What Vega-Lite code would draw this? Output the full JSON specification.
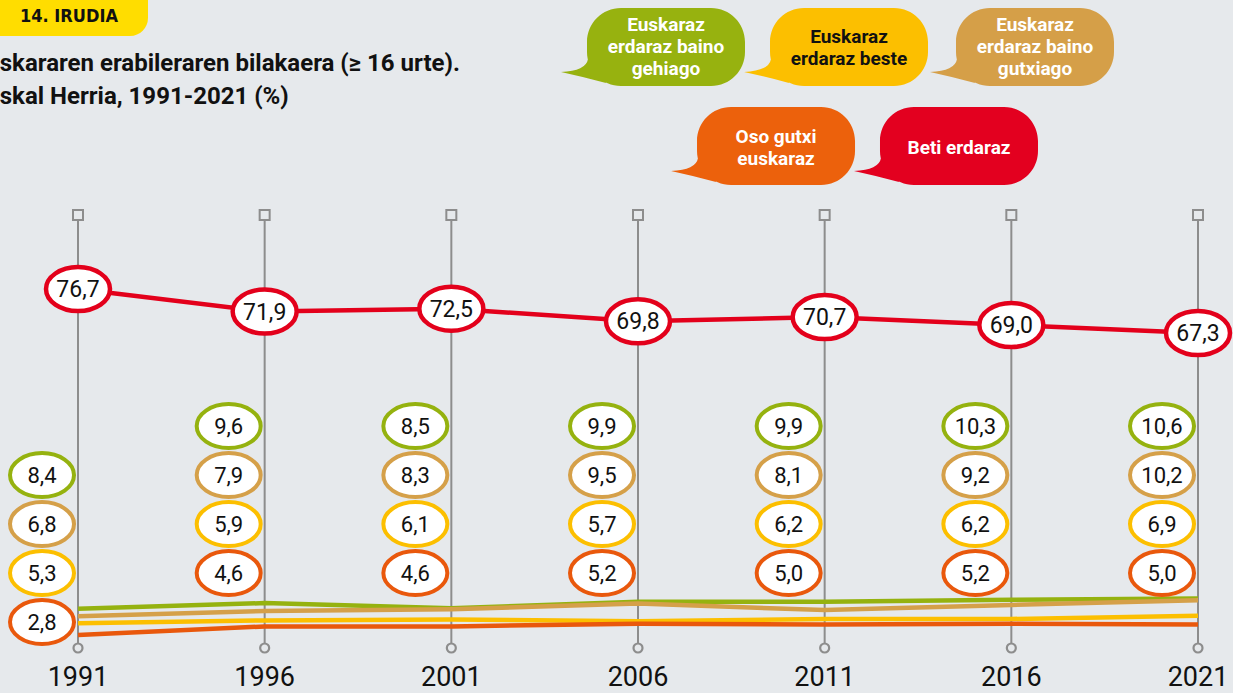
{
  "$schema": "https://vega.github.io/schema/vega-lite/v6.json",
  "width": 1233,
  "height": 693,
  "autosize": "none",
  "padding": 0,
  "background": "#e6e9ec",
  "config": {"view": {"stroke": null}, "text": {"font": "Roboto"}},
  "datasets": {
    "main": [
      {"year": 1991, "series": "Beti erdaraz", "value": 76.7},
      {"year": 1996, "series": "Beti erdaraz", "value": 71.9},
      {"year": 2001, "series": "Beti erdaraz", "value": 72.5},
      {"year": 2006, "series": "Beti erdaraz", "value": 69.8},
      {"year": 2011, "series": "Beti erdaraz", "value": 70.7},
      {"year": 2016, "series": "Beti erdaraz", "value": 69.0},
      {"year": 2021, "series": "Beti erdaraz", "value": 67.3},
      {"year": 1991, "series": "Euskaraz erdaraz baino gehiago", "value": 8.4},
      {"year": 1996, "series": "Euskaraz erdaraz baino gehiago", "value": 9.6},
      {"year": 2001, "series": "Euskaraz erdaraz baino gehiago", "value": 8.5},
      {"year": 2006, "series": "Euskaraz erdaraz baino gehiago", "value": 9.9},
      {"year": 2011, "series": "Euskaraz erdaraz baino gehiago", "value": 9.9},
      {"year": 2016, "series": "Euskaraz erdaraz baino gehiago", "value": 10.3},
      {"year": 2021, "series": "Euskaraz erdaraz baino gehiago", "value": 10.6},
      {"year": 1991, "series": "Euskaraz erdaraz baino gutxiago", "value": 6.8},
      {"year": 1996, "series": "Euskaraz erdaraz baino gutxiago", "value": 7.9},
      {"year": 2001, "series": "Euskaraz erdaraz baino gutxiago", "value": 8.3},
      {"year": 2006, "series": "Euskaraz erdaraz baino gutxiago", "value": 9.5},
      {"year": 2011, "series": "Euskaraz erdaraz baino gutxiago", "value": 8.1},
      {"year": 2016, "series": "Euskaraz erdaraz baino gutxiago", "value": 9.2},
      {"year": 2021, "series": "Euskaraz erdaraz baino gutxiago", "value": 10.2},
      {"year": 1991, "series": "Euskaraz erdaraz beste", "value": 5.3},
      {"year": 1996, "series": "Euskaraz erdaraz beste", "value": 5.9},
      {"year": 2001, "series": "Euskaraz erdaraz beste", "value": 6.1},
      {"year": 2006, "series": "Euskaraz erdaraz beste", "value": 5.7},
      {"year": 2011, "series": "Euskaraz erdaraz beste", "value": 6.2},
      {"year": 2016, "series": "Euskaraz erdaraz beste", "value": 6.2},
      {"year": 2021, "series": "Euskaraz erdaraz beste", "value": 6.9},
      {"year": 1991, "series": "Oso gutxi euskaraz", "value": 2.8},
      {"year": 1996, "series": "Oso gutxi euskaraz", "value": 4.6},
      {"year": 2001, "series": "Oso gutxi euskaraz", "value": 4.6},
      {"year": 2006, "series": "Oso gutxi euskaraz", "value": 5.2},
      {"year": 2011, "series": "Oso gutxi euskaraz", "value": 5.0},
      {"year": 2016, "series": "Oso gutxi euskaraz", "value": 5.2},
      {"year": 2021, "series": "Oso gutxi euskaraz", "value": 5.0}
    ],
    "legend": [
      {"order": 1, "series": "Euskaraz erdaraz baino gehiago", "txt": "Euskaraz\nerdaraz baino\ngehiago"},
      {"order": 2, "series": "Euskaraz erdaraz beste", "txt": "Euskaraz\nerdaraz beste"},
      {"order": 3, "series": "Euskaraz erdaraz baino gutxiago", "txt": "Euskaraz\nerdaraz baino\ngutxiago"},
      {"order": 4, "series": "Oso gutxi euskaraz", "txt": "Oso gutxi\neuskaraz"},
      {"order": 5, "series": "Beti erdaraz", "txt": "Beti erdaraz"}
    ]
  },
  "layer": [
    {
      "data": {"name": "main"},
      "transform": [{"filter": "datum.series === 'Beti erdaraz'"}],
      "mark": {"type": "rule", "color": "#8d8d8d", "strokeWidth": 2},
      "encoding": {
        "x": {"field": "year", "type": "quantitative", "scale": {"domain": [1988.9107, 2021.9375], "nice": false, "zero": false}, "axis": null},
        "y": {"datum": 92.0, "type": "quantitative", "scale": {"domain": [-9.615, 138.46], "nice": false, "zero": false}, "axis": null},
        "y2": {"datum": 1.0}
      }
    },
    {
      "data": {"name": "main"},
      "transform": [{"filter": "datum.series === 'Beti erdaraz'"}],
      "mark": {"type": "point", "shape": "square", "size": 100, "filled": true, "fill": "#e6e9ec", "stroke": "#8d8d8d", "strokeWidth": 2, "opacity": 1},
      "encoding": {
        "x": {"field": "year", "type": "quantitative", "scale": {"domain": [1988.9107, 2021.9375], "nice": false, "zero": false}, "axis": null},
        "y": {"datum": 92.52, "type": "quantitative", "scale": {"domain": [-9.615, 138.46], "nice": false, "zero": false}, "axis": null}
      }
    },
    {
      "data": {"name": "main"},
      "transform": [{"filter": "datum.series === 'Beti erdaraz'"}],
      "mark": {"type": "point", "shape": "circle", "size": 81, "filled": true, "fill": "#e6e9ec", "stroke": "#8d8d8d", "strokeWidth": 2.2, "opacity": 1},
      "encoding": {
        "x": {"field": "year", "type": "quantitative", "scale": {"domain": [1988.9107, 2021.9375], "nice": false, "zero": false}, "axis": null},
        "y": {"datum": 0, "type": "quantitative", "scale": {"domain": [-9.615, 138.46], "nice": false, "zero": false}, "axis": null}
      }
    },
    {
      "data": {"name": "main"},
      "mark": {"type": "line", "strokeWidth": 4.5},
      "encoding": {
        "x": {"field": "year", "type": "quantitative", "scale": {"domain": [1988.9107, 2021.9375], "nice": false, "zero": false}, "axis": null},
        "y": {"field": "value", "type": "quantitative", "scale": {"domain": [-9.615, 138.46], "nice": false, "zero": false}, "axis": null},
        "color": {"field": "series", "type": "nominal", "legend": null, "scale": {"domain": ["Euskaraz erdaraz baino gehiago", "Euskaraz erdaraz baino gutxiago", "Euskaraz erdaraz beste", "Oso gutxi euskaraz", "Beti erdaraz"], "range": ["#95b20f", "#d5a049", "#fcbf00", "#e9580c", "#e3001b"]}}
      }
    },
    {
      "data": {"name": "main"},
      "transform": [{"filter": "datum.series === 'Beti erdaraz'"}],
      "mark": {"type": "point", "shape": "M -32,0 A 32,22 0 1 0 32,0 A 32,22 0 1 0 -32,0 Z", "size": 4, "filled": true, "fill": "white", "stroke": "#e3001b", "strokeWidth": 4.5, "opacity": 1},
      "encoding": {
        "x": {"field": "year", "type": "quantitative", "scale": {"domain": [1988.9107, 2021.9375], "nice": false, "zero": false}, "axis": null},
        "y": {"field": "value", "type": "quantitative", "scale": {"domain": [-9.615, 138.46], "nice": false, "zero": false}, "axis": null}
      }
    },
    {
      "data": {"name": "main"},
      "transform": [
        {"filter": "datum.series === 'Beti erdaraz'"},
        {"calculate": "replace(format(datum.value, '.1f'), '.', ',')", "as": "label"}
      ],
      "mark": {"type": "text", "fontSize": 23, "color": "#111111", "align": "center", "baseline": "middle", "dy": 1},
      "encoding": {
        "x": {"field": "year", "type": "quantitative", "scale": {"domain": [1988.9107, 2021.9375], "nice": false, "zero": false}, "axis": null},
        "y": {"field": "value", "type": "quantitative", "scale": {"domain": [-9.615, 138.46], "nice": false, "zero": false}, "axis": null},
        "text": {"field": "label"}
      }
    },
    {
      "data": {"name": "main"},
      "transform": [
        {"filter": "datum.series !== 'Beti erdaraz'"},
        {"window": [{"op": "row_number", "as": "rk"}], "sort": [{"field": "value", "order": "ascending"}], "groupby": ["year"]},
        {"calculate": "16.0 + (datum.rk - 1) * 10.47 - (datum.year === 1991 ? 10.47 : 0)", "as": "ly"},
        {"calculate": "datum.year - 0.964", "as": "lx"}
      ],
      "mark": {"type": "point", "shape": "M -32,0 A 32,22 0 1 0 32,0 A 32,22 0 1 0 -32,0 Z", "size": 4, "filled": true, "fill": "white", "strokeWidth": 4, "opacity": 1},
      "encoding": {
        "x": {"field": "lx", "type": "quantitative", "scale": {"domain": [1988.9107, 2021.9375], "nice": false, "zero": false}, "axis": null},
        "y": {"field": "ly", "type": "quantitative", "scale": {"domain": [-9.615, 138.46], "nice": false, "zero": false}, "axis": null},
        "stroke": {"field": "series", "type": "nominal", "legend": null, "scale": {"domain": ["Euskaraz erdaraz baino gehiago", "Euskaraz erdaraz baino gutxiago", "Euskaraz erdaraz beste", "Oso gutxi euskaraz", "Beti erdaraz"], "range": ["#95b20f", "#d5a049", "#fcbf00", "#e9580c", "#e3001b"]}}
      }
    },
    {
      "data": {"name": "main"},
      "transform": [
        {"filter": "datum.series !== 'Beti erdaraz'"},
        {"window": [{"op": "row_number", "as": "rk"}], "sort": [{"field": "value", "order": "ascending"}], "groupby": ["year"]},
        {"calculate": "16.0 + (datum.rk - 1) * 10.47 - (datum.year === 1991 ? 10.47 : 0)", "as": "ly"},
        {"calculate": "datum.year - 0.964", "as": "lx"},
        {"calculate": "replace(format(datum.value, '.1f'), '.', ',')", "as": "label"}
      ],
      "mark": {"type": "text", "fontSize": 22, "color": "#111111", "align": "center", "baseline": "middle", "dy": 1},
      "encoding": {
        "x": {"field": "lx", "type": "quantitative", "scale": {"domain": [1988.9107, 2021.9375], "nice": false, "zero": false}, "axis": null},
        "y": {"field": "ly", "type": "quantitative", "scale": {"domain": [-9.615, 138.46], "nice": false, "zero": false}, "axis": null},
        "text": {"field": "label"}
      }
    },
    {
      "data": {"name": "main"},
      "transform": [{"filter": "datum.series === 'Beti erdaraz'"}],
      "mark": {"type": "text", "fontSize": 27, "color": "#111111", "align": "center", "baseline": "alphabetic"},
      "encoding": {
        "x": {"field": "year", "type": "quantitative", "scale": {"domain": [1988.9107, 2021.9375], "nice": false, "zero": false}, "axis": null},
        "y": {"datum": -8.1, "type": "quantitative", "scale": {"domain": [-9.615, 138.46], "nice": false, "zero": false}, "axis": null},
        "text": {"field": "year", "type": "nominal"}
      }
    },
    {
      "data": {"name": "legend"},
      "transform": [
        {"calculate": "[2006.750, 2011.652, 2016.634, 2009.697, 2014.598][datum.order - 1]", "as": "bx"},
        {"calculate": "[128.42, 128.42, 128.42, 107.26, 107.26][datum.order - 1]", "as": "by"}
      ],
      "mark": {"type": "point", "shape": "M -45,-39 L 45,-39 A 34,34 0 0 1 79,-5 L 79,5 A 34,34 0 0 1 45,39 L -45,39 A 34,34 0 0 1 -79,5 L -79,-5 A 34,34 0 0 1 -45,-39 Z M -60,36 Q -82,30 -105,25 Q -80,24 -78,12 Z", "size": 4, "filled": true, "strokeWidth": 0, "opacity": 1},
      "encoding": {
        "x": {"field": "bx", "type": "quantitative", "scale": {"domain": [1988.9107, 2021.9375], "nice": false, "zero": false}, "axis": null},
        "y": {"field": "by", "type": "quantitative", "scale": {"domain": [-9.615, 138.46], "nice": false, "zero": false}, "axis": null},
        "fill": {"field": "series", "type": "nominal", "legend": null, "scale": {"domain": ["Euskaraz erdaraz baino gehiago", "Euskaraz erdaraz baino gutxiago", "Euskaraz erdaraz beste", "Oso gutxi euskaraz", "Beti erdaraz"], "range": ["#97b20f", "#d59f48", "#fcbf00", "#ec610c", "#e3001f"]}}
      }
    },
    {
      "data": {"name": "legend"},
      "transform": [
        {"calculate": "[2006.750, 2011.652, 2016.634, 2009.697, 2014.598][datum.order - 1]", "as": "bx"},
        {"calculate": "[133.12, 130.56, 133.12, 109.19, 106.84][datum.order - 1]", "as": "ty"}
      ],
      "mark": {"type": "text", "fontSize": 19, "fontWeight": "bold", "lineBreak": "\n", "lineHeight": 22, "align": "center", "baseline": "middle"},
      "encoding": {
        "x": {"field": "bx", "type": "quantitative", "scale": {"domain": [1988.9107, 2021.9375], "nice": false, "zero": false}, "axis": null},
        "y": {"field": "ty", "type": "quantitative", "scale": {"domain": [-9.615, 138.46], "nice": false, "zero": false}, "axis": null},
        "text": {"field": "txt"},
        "color": {"condition": {"test": "datum.order === 2", "value": "#111111"}, "value": "#ffffff"}
      }
    },
    {
      "data": {"values": [{"badge": "14. IRUDIA"}]},
      "mark": {"type": "point", "shape": "M -116,-40 L 84,-40 L 84,8 A 18,18 0 0 1 66,26 L -116,26 Z", "size": 4, "filled": true, "fill": "#ffdd00", "strokeWidth": 0, "opacity": 1},
      "encoding": {
        "x": {"datum": 1990.625, "type": "quantitative", "scale": {"domain": [1988.9107, 2021.9375], "nice": false, "zero": false}, "axis": null},
        "y": {"datum": 136.325, "type": "quantitative", "scale": {"domain": [-9.615, 138.46], "nice": false, "zero": false}, "axis": null}
      }
    },
    {
      "data": {"values": [{"badge": "14. IRUDIA"}]},
      "mark": {"type": "text", "font": "DejaVu Sans Condensed", "fontSize": 18, "fontWeight": "bold", "color": "#111111", "align": "center", "baseline": "middle"},
      "encoding": {
        "x": {"datum": 1990.759, "type": "quantitative", "scale": {"domain": [1988.9107, 2021.9375], "nice": false, "zero": false}, "axis": null},
        "y": {"datum": 134.83, "type": "quantitative", "scale": {"domain": [-9.615, 138.46], "nice": false, "zero": false}, "axis": null},
        "text": {"field": "badge"}
      }
    },
    {
      "data": {"values": [{"t": "Euskararen erabileraren bilakaera (≥ 16 urte).\nEuskal Herria, 1991-2021 (%)"}]},
      "mark": {"type": "text", "fontSize": 24, "fontWeight": "bold", "color": "#111111", "align": "left", "baseline": "middle", "lineBreak": "\n", "lineHeight": 33},
      "encoding": {
        "x": {"datum": 1988.1875, "type": "quantitative", "scale": {"domain": [1988.9107, 2021.9375], "nice": false, "zero": false}, "axis": null},
        "y": {"datum": 124.79, "type": "quantitative", "scale": {"domain": [-9.615, 138.46], "nice": false, "zero": false}, "axis": null},
        "text": {"field": "t"}
      }
    }
  ]
}
